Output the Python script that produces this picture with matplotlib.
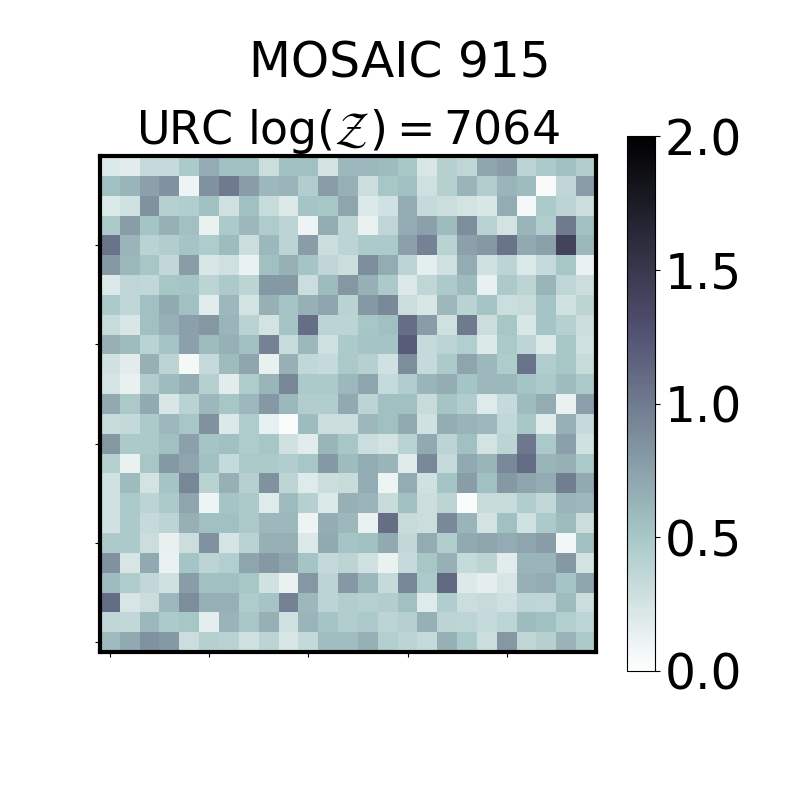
import numpy as np
import matplotlib
matplotlib.use('Agg')
import matplotlib.pyplot as plt

# pixel rows as they appear in the picture, top to bottom
row_00 = [.20,.17,.33,.33,.47,.68,.55,.55,.30,.55,.55,.25,.60,.60,.58,.50,.22,.42,.36,.72,.78,.38,.47,.55,.45]
row_01 = [.55,.62,.75,.85,.10,.85,1.0,.78,.60,.62,.45,.78,.65,.30,.50,.55,.28,.42,.62,.45,.62,.58,.04,.36,.78]
row_02 = [.20,.27,.85,.42,.45,.55,.28,.55,.32,.20,.52,.50,.72,.20,.27,.68,.33,.30,.25,.22,.68,.06,.47,.38,.30]
row_03 = [.47,.78,.52,.65,.55,.12,.47,.60,.46,.38,.10,.68,.38,.12,.36,.68,.75,.58,.88,.40,.25,.62,.45,1.0,.55]
row_04 = [1.05,.62,.40,.45,.52,.46,.58,.30,.60,.38,.78,.30,.38,.47,.47,.75,.95,.40,.75,.80,1.05,.70,.75,1.4,.60]
row_05 = [.80,.60,.50,.35,.78,.22,.28,.12,.55,.65,.52,.36,.30,.88,.68,.38,.15,.28,.68,.27,.38,.20,.33,.50,.12]
row_06 = [.20,.36,.35,.50,.52,.38,.47,.38,.80,.80,.30,.58,.82,.65,.47,.20,.36,.47,.58,.13,.47,.38,.62,.36,.30]
row_07 = [.47,.36,.55,.70,.55,.17,.60,.25,.65,.52,.65,.72,.40,.80,.90,.30,.22,.60,.40,.52,.30,.32,.52,.27,.38]
row_08 = [.32,.22,.55,.65,.75,.82,.62,.40,.25,.52,1.08,.38,.38,.50,.55,1.08,.78,.28,1.0,.30,.50,.22,.52,.42,.30]
row_09 = [.65,.58,.40,.52,.75,.58,.65,.55,.95,.32,.60,.28,.47,.52,.52,1.2,.33,.38,.43,.20,.48,.37,.20,.50,.28]
row_10 = [.27,.17,.65,.38,.07,.33,.58,.72,.13,.65,.35,.33,.48,.42,.27,.88,.33,.47,.72,.60,.46,1.05,.45,.50,.32]
row_11 = [.24,.13,.45,.58,.67,.42,.17,.46,.62,.92,.47,.47,.60,.72,.33,.45,.62,.67,.52,.60,.60,.52,.47,.58,.47]
row_12 = [.70,.48,.70,.22,.40,.60,.50,.60,.80,.60,.45,.45,.70,.38,.55,.55,.32,.52,.45,.18,.33,.58,.68,.12,.75]
row_13 = [.32,.34,.47,.60,.50,.85,.20,.46,.14,.03,.58,.30,.30,.60,.55,.70,.27,.68,.63,.60,.35,.50,.18,.65,.33]
row_14 = [.82,.47,.47,.55,.75,.52,.55,.46,.50,.27,.17,.62,.50,.30,.25,.40,.70,.38,.55,.25,.38,1.02,.48,.75,.27]
row_15 = [.42,.12,.50,.80,.72,.55,.33,.48,.47,.45,.50,.80,.58,.68,.62,.18,.90,.33,.70,.62,.90,1.1,.62,.65,.48]
row_16 = [.27,.58,.25,.52,.92,.40,.65,.42,.85,.37,.18,.30,.32,.68,.10,.68,.27,.52,.78,.55,.80,.72,.68,.98,.70]
row_17 = [.28,.47,.38,.47,.72,.10,.52,.47,.18,.58,.42,.20,.65,.62,.32,.55,.30,.38,.03,.32,.32,.45,.35,.62,.60]
row_18 = [.27,.47,.33,.38,.65,.55,.55,.48,.60,.60,.10,.67,.60,.12,1.08,.32,.30,.90,.62,.25,.55,.27,.47,.58,.30]
row_19 = [.47,.47,.30,.13,.30,.85,.24,.40,.65,.65,.20,.70,.52,.55,.70,.35,.68,.45,.70,.72,.68,.72,.78,.08,.55]
row_20 = [.85,.23,.70,.12,.52,.38,.43,.72,.80,.72,.52,.34,.38,.27,.12,.33,.50,.65,.33,.38,.17,.62,.62,.80,.25]
row_21 = [.58,.46,.35,.28,.78,.55,.55,.50,.27,.12,.82,.38,.80,.60,.33,.92,.47,1.12,.20,.15,.23,.65,.68,.52,.72]
row_22 = [1.1,.23,.30,.60,.88,.65,.65,.46,.52,.95,.60,.38,.45,.42,.45,.55,.18,.45,.30,.32,.28,.37,.36,.58,.30]
row_23 = [.36,.35,.60,.47,.50,.15,.63,.50,.65,.28,.62,.52,.45,.48,.38,.42,.65,.38,.37,.33,.37,.58,.55,.44,.37]
row_24 = [.58,.70,.85,.80,.30,.42,.40,.28,.38,.22,.34,.57,.57,.65,.44,.38,.33,.65,.48,.30,.82,.36,.42,.63,.47]

rows = [row_00, row_01, row_02, row_03, row_04, row_05, row_06, row_07, row_08,
        row_09, row_10, row_11, row_12, row_13, row_14, row_15, row_16, row_17,
        row_18, row_19, row_20, row_21, row_22, row_23, row_24]
tick_pos = [0, 5, 10, 15, 20]
cbar_ticks = [0.0, 0.5, 1.0, 1.5, 2.0]

fig = plt.figure(figsize=(8, 8), dpi=100)
ax = fig.add_axes([100/800, 1-652/800, 496/800, 496/800])
im = ax.imshow(np.array(rows)[::-1], origin='lower', cmap='bone_r', vmin=0, vmax=2)
ax.set_xticks(tick_pos)
ax.set_yticks(tick_pos)
ax.set_xticklabels([])
ax.set_yticklabels([])
for s in ax.spines.values():
    s.set_linewidth(3)
ax.set_title(r'URC $\log(\mathcal{Z}) = 7064$', fontsize=33, pad=8)
fig.suptitle('MOSAIC 915', fontsize=35, x=0.5, y=0.95)

cax = fig.add_axes([627/800, 1-671/800, 28/800, 535/800])
cb = fig.colorbar(im, cax=cax, ticks=cbar_ticks)
cb.ax.tick_params(labelsize=35)

plt.savefig('out.png', dpi=100)
plt.close()
